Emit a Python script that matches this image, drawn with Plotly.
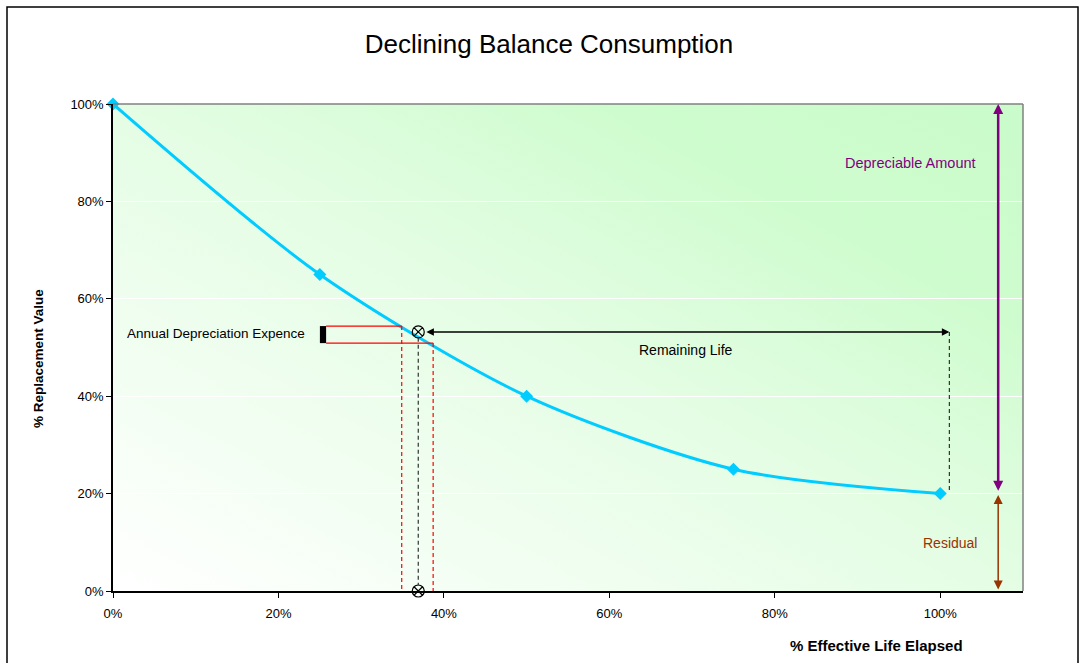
import base64
import plotly.graph_objects as go

# ---- data ----
life_elapsed = [0.0, 0.25, 0.50, 0.75, 1.00]
replacement_value = [1.00, 0.65, 0.40, 0.25, 0.20]
x_ticks = [0.0, 0.2, 0.4, 0.6, 0.8, 1.0]
x_tick_labels = ["0%", "20%", "40%", "60%", "80%", "100%"]
y_ticks = [0.0, 0.2, 0.4, 0.6, 0.8, 1.0]
y_tick_labels = ["0%", "20%", "40%", "60%", "80%", "100%"]

residual = 0.20
current_life = 0.369
current_value = 0.532
dep_left = 0.2576
dep_x_top = 0.349
dep_x_bottom = 0.387
dep_y_top = 0.544
dep_y_bottom = 0.509
remaining_end = 1.011
amount_x = 1.07

FONT = "Liberation Sans, Arial, sans-serif"
DASH = "4px,3px"

fig = go.Figure()

fig.add_trace(go.Scatter(
    x=life_elapsed, y=replacement_value, mode="lines+markers",
    line=dict(color="#00CCFF", width=3, shape="spline", smoothing=0.8),
    marker=dict(symbol="diamond", size=10, color="#00CCFF"),
    cliponaxis=False, showlegend=False, hoverinfo="skip"))

# circled-x markers
fig.add_trace(go.Scatter(
    x=[current_life, current_life], y=[current_value, 0.0], mode="markers",
    marker=dict(symbol="circle-x-open", size=12, color="black", line=dict(width=1.2)),
    cliponaxis=False, showlegend=False, hoverinfo="skip"))

shapes = []
# red depreciation lines
shapes.append(dict(type="line", xref="x", yref="y", x0=dep_left, x1=dep_x_top, y0=dep_y_top, y1=dep_y_top,
                   line=dict(color="#FF0000", width=1.2)))
shapes.append(dict(type="line", xref="x", yref="y", x0=dep_left, x1=dep_x_bottom, y0=dep_y_bottom, y1=dep_y_bottom,
                   line=dict(color="#FF0000", width=1.2)))
shapes.append(dict(type="line", xref="x", yref="y", x0=dep_x_top, x1=dep_x_top, y0=dep_y_top, y1=0,
                   line=dict(color="#FF0000", width=1.2, dash=DASH)))
shapes.append(dict(type="line", xref="x", yref="y", x0=dep_x_bottom, x1=dep_x_bottom, y0=dep_y_bottom, y1=0,
                   line=dict(color="#FF0000", width=1.2, dash=DASH)))
# black bar
shapes.append(dict(type="rect", xref="x", yref="y", x0=dep_left - 0.0075, x1=dep_left, y0=dep_y_bottom, y1=dep_y_top,
                   fillcolor="black", line=dict(width=0)))
# black dashed verticals
shapes.append(dict(type="line", xref="x", yref="y", x0=current_life, x1=current_life, y0=current_value - 0.012, y1=0.012,
                   line=dict(color="#333333", width=1.2, dash=DASH)))
shapes.append(dict(type="line", xref="x", yref="y", x0=remaining_end, x1=remaining_end, y0=current_value, y1=residual + 0.005,
                   line=dict(color="#333333", width=1.2, dash=DASH)))
# plot-area top/right gray border
shapes.append(dict(type="line", xref="paper", yref="paper", x0=0, x1=1, y0=1, y1=1,
                   line=dict(color="#808080", width=1.5)))
shapes.append(dict(type="line", xref="paper", yref="paper", x0=1, x1=1, y0=0, y1=1,
                   line=dict(color="#808080", width=1.5)))
# outer chart border
shapes.append(dict(type="rect", xref="paper", yref="paper",
                   x0=(7 - 113) / 910, x1=(1078 - 113) / 910, y0=-0.2, y1=(591 - 7) / 487,
                   line=dict(color="black", width=1.5), fillcolor="rgba(0,0,0,0)"))

annotations = []
# Remaining life double arrow
annotations.append(dict(x=remaining_end, y=current_value, ax=current_life + 0.008, ay=current_value,
                        xref="x", yref="y", axref="x", ayref="y", text="", showarrow=True,
                        arrowhead=2, arrowside="end+start", arrowsize=1, arrowwidth=1.5, arrowcolor="black"))
# Depreciable amount arrow
annotations.append(dict(x=amount_x, y=1.0, ax=amount_x, ay=residual + 0.003,
                        xref="x", yref="y", axref="x", ayref="y", text="", showarrow=True,
                        arrowhead=2, arrowside="end+start", arrowsize=0.8, arrowwidth=2.5, arrowcolor="#800080"))
# Residual arrow
annotations.append(dict(x=amount_x, y=residual - 0.003, ax=amount_x, ay=0.0,
                        xref="x", yref="y", axref="x", ayref="y", text="", showarrow=True,
                        arrowhead=2, arrowside="end+start", arrowsize=1.2, arrowwidth=1.5, arrowcolor="#993300"))
# texts
annotations.append(dict(x=(307 - 113) / 827, y=(591 - 333) / 487, xref="x", yref="y",
                        text="Annual Depreciation Expence", yanchor="middle",
                        showarrow=False, xanchor="right", font=dict(family=FONT, size=13.5, color="black")))
annotations.append(dict(x=(686 - 113) / 827, y=(591 - 350) / 487, xref="x", yref="y", text="Remaining Life",
                        xanchor="center", yanchor="middle",
                        showarrow=False, font=dict(family=FONT, size=14, color="black")))
annotations.append(dict(x=(910 - 113) / 827, y=(591 - 163) / 487, xref="x", yref="y", text="Depreciable Amount",
                        xanchor="center", yanchor="middle",
                        showarrow=False, font=dict(family=FONT, size=14.5, color="#800080")))
annotations.append(dict(x=(950 - 113) / 827, y=(591 - 543) / 487, xref="x", yref="y", text="Residual",
                        xanchor="center", yanchor="middle",
                        showarrow=False, font=dict(family=FONT, size=14, color="#993300")))
# axis titles
annotations.append(dict(x=(876 - 113) / 910, y=(591 - 645) / 487, xref="paper", yref="paper",
                        text="<b>% Effective Life Elapsed</b>", showarrow=False,
                        xanchor="center", yanchor="middle",
                        font=dict(family=FONT, size=15, color="black")))
annotations.append(dict(x=(38 - 113) / 910, y=(591 - 359) / 487, xref="paper", yref="paper",
                        text="<b>% Replacement Value</b>", showarrow=False, textangle=-90,
                        xanchor="center", yanchor="middle",
                        font=dict(family=FONT, size=13.5, color="black")))

svg = ('<svg xmlns="http://www.w3.org/2000/svg" width="200" height="200" viewBox="0 0 200 200" '
       'preserveAspectRatio="none"><defs><linearGradient id="g" x1="0" y1="1" x2="1" y2="0">'
       '<stop offset="0" stop-color="#ffffff"/><stop offset="0.5" stop-color="#e4fde4"/>'
       '<stop offset="0.78" stop-color="#cefcce"/><stop offset="1" stop-color="#cafbca"/>'
       '</linearGradient></defs>'
       '<rect width="200" height="200" fill="url(#g)"/></svg>')
src = "data:image/svg+xml;base64," + base64.b64encode(svg.encode()).decode()

fig.update_layout(
    width=1082, height=663,
    margin=dict(l=113, r=59, t=104, b=72),
    paper_bgcolor="white", plot_bgcolor="rgba(0,0,0,0)",
    title=dict(text="Declining Balance Consumption", x=549 / 1082, xanchor="center",
               y=1 - 44 / 663, yanchor="middle", font=dict(family=FONT, size=26, color="black")),
    font=dict(family=FONT, size=13, color="black"),
    images=[dict(source=src, xref="paper", yref="paper", x=0, y=1, sizex=1, sizey=1,
                 sizing="stretch", layer="below", xanchor="left", yanchor="top")],
    shapes=shapes, annotations=annotations, showlegend=False,
    xaxis=dict(range=[0, 1.1], tickvals=x_ticks, ticktext=x_tick_labels, showgrid=False, zeroline=False,
               showline=True, linecolor="black", linewidth=1.5, ticks="outside", ticklen=5,
               ticklabelstandoff=5,
               tickcolor="black", tickfont=dict(family=FONT, size=13)),
    yaxis=dict(range=[0, 1.0], tickvals=y_ticks, ticktext=y_tick_labels, showgrid=True, gridcolor="white",
               gridwidth=1.2, zeroline=False, showline=True, linecolor="black", linewidth=1.5,
               ticks="outside", ticklen=5, tickcolor="black", tickfont=dict(family=FONT, size=13)),
)

fig.write_html("out.html", config={"displayModeBar": False},
               post_script="document.body.style.margin='0px';document.body.style.overflow='hidden';")
